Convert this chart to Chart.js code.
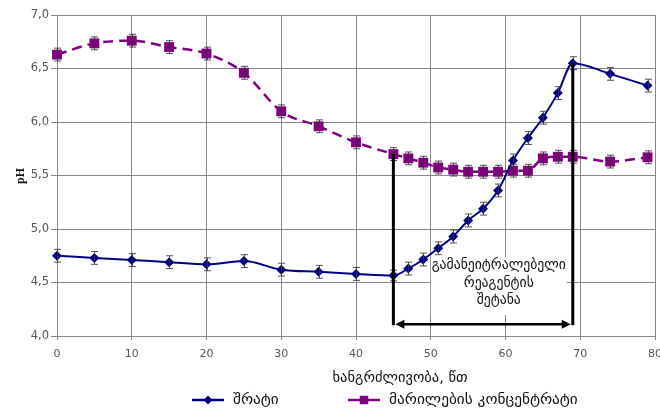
<!DOCTYPE html>
<html>
<head>
<meta charset="utf-8">
<script src="https://cdn.jsdelivr.net/npm/chart.js@4.4.1/dist/chart.umd.min.js"></script>
<style>
  html, body { margin: 0; padding: 0; background: #fff; }
  #wrap { width: 660px; height: 409px; position: relative; }
</style>
</head>
<body>
<div id="wrap"><canvas id="c" width="660" height="409"></canvas></div>
<script>
// Process time, minutes
const minutes = [0, 5, 10, 15, 20, 25, 30, 35, 40, 45, 47, 49, 51, 53, 55, 57, 59, 61, 63, 65, 67, 69, 74, 79];
// pH of whey
const wheyPH = [4.75, 4.73, 4.71, 4.69, 4.67, 4.70, 4.62, 4.60, 4.58, 4.565, 4.63, 4.715, 4.82, 4.93, 5.08, 5.19, 5.36, 5.64, 5.85, 6.04, 6.27, 6.55, 6.45, 6.34];
const wheyErr = [0.06, 0.06, 0.06, 0.06, 0.06, 0.06, 0.06, 0.06, 0.06, 0.05, 0.06, 0.06, 0.06, 0.06, 0.06, 0.06, 0.06, 0.06, 0.06, 0.06, 0.06, 0.06, 0.06, 0.06];
// pH of salt concentrate
const saltPH = [6.63, 6.735, 6.76, 6.70, 6.64, 6.46, 6.10, 5.96, 5.81, 5.70, 5.66, 5.62, 5.575, 5.555, 5.535, 5.535, 5.535, 5.545, 5.545, 5.66, 5.675, 5.675, 5.63, 5.67];
const saltErr = [0.06, 0.06, 0.06, 0.06, 0.06, 0.06, 0.06, 0.06, 0.06, 0.06, 0.06, 0.06, 0.06, 0.06, 0.06, 0.06, 0.06, 0.06, 0.06, 0.06, 0.06, 0.06, 0.06, 0.06];

const seriesNames = ['შრატი', 'მარილების კონცენტრატი'];
const xTickValues = [0, 10, 20, 30, 40, 50, 60, 70, 80];
const yTickValues = [4.0, 4.5, 5.0, 5.5, 6.0, 6.5, 7.0];
const xTitle = 'ხანგრძლივობა, წთ';
const yTitle = 'pH';

// Neutralising reagent dosing window
const doseStart = 45;
const doseEnd = 69;
const arrowLevel = 4.11;
const noteLines = ['გამანეიტრალებელი', 'რეაგენტის', 'შეტანა'];
const noteAnchor = [59.1, 4.655]; // minutes, pH of first text line

const BLUE = '#000088';
const PURPLE = '#800080';
const GEO_FONT = '"DejaVu Sans", sans-serif';
const TICK_FONT = '"DejaVu Sans", sans-serif';
const TITLE_FONT = '"Liberation Serif", "Times New Roman", serif';

function pairs(xs, ys) { return xs.map((x, i) => ({ x: x, y: ys[i] })); }

const overlay = {
  id: 'overlay',
  beforeDatasetsDraw(chart) {
    const { ctx, scales: { x, y } } = chart;
    ctx.save();
    // note box
    const cx = x.getPixelForValue(noteAnchor[0]);
    const ty = y.getPixelForValue(noteAnchor[1]);
    ctx.fillStyle = '#fff';
    ctx.fillRect(cx - 68, ty - 9, 136, 58);
    ctx.fillStyle = '#111';
    ctx.font = '13.7px ' + GEO_FONT;
    ctx.textAlign = 'center';
    ctx.textBaseline = 'middle';
    noteLines.forEach((t, i) => ctx.fillText(t, cx, ty + i * 17.2));
    ctx.restore();
  },
  afterDatasetsDraw(chart) {
    const { ctx, scales: { x, y } } = chart;
    ctx.save();
    // error bars
    ctx.strokeStyle = 'rgba(50,50,50,0.85)';
    ctx.lineWidth = 1;
    [[saltPH, saltErr], [wheyPH, wheyErr]].forEach(([vals, errs]) => {
      minutes.forEach((m, i) => {
        const px = Math.round(x.getPixelForValue(m)) + 0.5;
        const top = y.getPixelForValue(vals[i] + errs[i]);
        const bot = y.getPixelForValue(vals[i] - errs[i]);
        ctx.beginPath();
        ctx.moveTo(px, top); ctx.lineTo(px, bot);
        ctx.moveTo(px - 3.5, top); ctx.lineTo(px + 3.5, top);
        ctx.moveTo(px - 3.5, bot); ctx.lineTo(px + 3.5, bot);
        ctx.stroke();
      });
    });
    // dosing window markers
    const xa = x.getPixelForValue(doseStart);
    const xb = x.getPixelForValue(doseEnd);
    const ya = y.getPixelForValue(saltPH[minutes.indexOf(doseStart)]);
    const yb = y.getPixelForValue(wheyPH[minutes.indexOf(doseEnd)]);
    const yArr = y.getPixelForValue(arrowLevel);
    ctx.strokeStyle = '#000';
    ctx.fillStyle = '#000';
    ctx.lineWidth = 3;
    ctx.beginPath();
    ctx.moveTo(xa, ya); ctx.lineTo(xa, yArr + 1);
    ctx.moveTo(xb, yb); ctx.lineTo(xb, yArr + 1);
    ctx.stroke();
    ctx.lineWidth = 2.5;
    ctx.beginPath();
    ctx.moveTo(xa + 8, yArr); ctx.lineTo(xb - 8, yArr);
    ctx.stroke();
    ctx.beginPath();
    ctx.moveTo(xa + 2, yArr); ctx.lineTo(xa + 11, yArr - 4.5); ctx.lineTo(xa + 11, yArr + 4.5); ctx.closePath();
    ctx.moveTo(xb - 2, yArr); ctx.lineTo(xb - 11, yArr - 4.5); ctx.lineTo(xb - 11, yArr + 4.5); ctx.closePath();
    ctx.fill();
    ctx.restore();
  },
  afterDraw(chart) {
    const { ctx } = chart;
    ctx.save();
    // y title
    ctx.fillStyle = '#111';
    ctx.font = 'bold 12px ' + TITLE_FONT;
    ctx.translate(21, 176);
    ctx.rotate(-Math.PI / 2);
    ctx.textAlign = 'center';
    ctx.textBaseline = 'middle';
    ctx.fillText(yTitle, 0, 0);
    ctx.restore();

    ctx.save();
    // x title
    ctx.fillStyle = '#111';
    ctx.font = '14.5px ' + GEO_FONT;
    ctx.textAlign = 'center';
    ctx.textBaseline = 'middle';
    ctx.fillText(xTitle, 400, 378);
    // legend
    const ly = 400;
    const items = [
      { x0: 192, color: BLUE, style: 'rectRot', r: 4.5, label: seriesNames[0] },
      { x0: 348, color: PURPLE, style: 'rect', r: 6, label: seriesNames[1] }
    ];
    items.forEach(it => {
      ctx.strokeStyle = it.color;
      ctx.lineWidth = 2.5;
      ctx.beginPath();
      ctx.moveTo(it.x0, ly); ctx.lineTo(it.x0 + 32, ly);
      ctx.stroke();
      ctx.fillStyle = it.color;
      Chart.helpers.drawPoint(ctx, { pointStyle: it.style, radius: it.r, borderWidth: 0 }, it.x0 + 16, ly);
      ctx.fillStyle = '#111';
      ctx.textAlign = 'left';
      ctx.font = '15.3px ' + GEO_FONT;
      ctx.fillText(it.label, it.x0 + 41, ly);
    });
    ctx.restore();
  }
};

new Chart(document.getElementById('c'), {
  type: 'line',
  data: {
    datasets: [
      {
        label: seriesNames[0],
        data: pairs(minutes, wheyPH),
        borderColor: BLUE,
        backgroundColor: BLUE,
        borderWidth: 2,
        pointStyle: 'rectRot',
        pointRadius: 5,
        pointBorderWidth: 0,
        cubicInterpolationMode: 'monotone',
        clip: false
      },
      {
        label: seriesNames[1],
        data: pairs(minutes, saltPH),
        borderColor: PURPLE,
        backgroundColor: PURPLE,
        borderWidth: 2.5,
        borderDash: [10, 6],
        pointStyle: 'rect',
        pointRadius: 7,
        pointBorderWidth: 0,
        cubicInterpolationMode: 'monotone',
        clip: false
      }
    ]
  },
  options: {
    responsive: false,
    animation: false,
    layout: { autoPadding: false, padding: { top: 15, right: 0, left: 0, bottom: 0 } },
    plugins: { legend: { display: false }, tooltip: { enabled: false } },
    scales: {
      x: {
        type: 'linear',
        min: 0, max: 80,
        afterBuildTicks: s => { s.ticks = xTickValues.map(v => ({ value: v })); },
        afterFit: s => { s.height = 73; s.paddingRight = 5; s.paddingLeft = 0; },
        grid: { color: '#868686', lineWidth: 1, tickLength: 4, drawTicks: true },
        border: { color: '#868686', width: 1 },
        ticks: { padding: 8, color: '#555', font: { family: TICK_FONT, size: 11 }, callback: v => String(v) }
      },
      y: {
        min: 4, max: 7,
        afterBuildTicks: s => { s.ticks = yTickValues.map(v => ({ value: v })); },
        afterFit: s => { s.width = 57; },
        grid: { color: '#868686', lineWidth: 1, tickLength: 6, drawTicks: true },
        border: { color: '#868686', width: 1 },
        ticks: { padding: 2, color: '#555', font: { family: TICK_FONT, size: 11.5 }, callback: v => v.toFixed(1).replace('.', ',') }
      }
    }
  },
  plugins: [overlay]
});
</script>
</body>
</html>
